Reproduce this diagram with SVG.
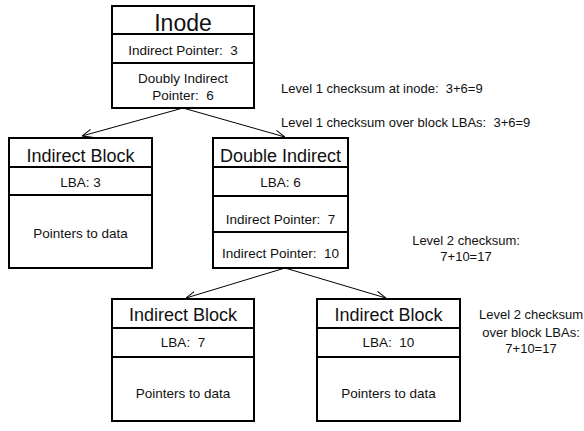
<svg xmlns="http://www.w3.org/2000/svg" width="584" height="431" viewBox="0 0 584 431">
<style>
.box{fill:#fff;stroke:#000;stroke-width:2}
.div{stroke:#000;stroke-width:2}
text{font-family:"Liberation Sans",Arial,sans-serif;fill:#111;text-anchor:middle}
.t{font-size:18px}
.s{font-size:13.5px}
.n{font-size:13px}
.l{text-anchor:start}
.c{stroke:#000;stroke-width:1;fill:none;marker-end:url(#ah)}
</style>
<defs>
<marker id="ah" viewBox="0 0 10 10" refX="10" refY="5" markerWidth="10" markerHeight="10" markerUnits="userSpaceOnUse" orient="auto">
<path d="M0,1 L10,5 L0,9" fill="none" stroke="#000" stroke-width="1"/>
</marker>
</defs>
<g id="connectors">
<line class="c" x1="183" y1="108" x2="82" y2="136"/>
<line class="c" x1="183" y1="108" x2="285" y2="137"/>
<line class="c" x1="285" y1="268" x2="186" y2="298"/>
<line class="c" x1="285" y1="268" x2="386" y2="298"/>
</g>
<g id="inode">
<rect class="box" x="112" y="6" width="142" height="102"/>
<line class="div" x1="112" y1="34" x2="254" y2="34"/>
<line class="div" x1="112" y1="63" x2="254" y2="63"/>
<text x="183" y="31" style="font-size:23px">Inode</text>
<text class="s" x="183" y="55">Indirect Pointer:&#160; 3</text>
<text class="s" x="183" y="83">Doubly Indirect</text>
<text class="s" x="183" y="100">Pointer:&#160; 6</text>
</g>
<g id="indirect1">
<rect class="box" x="9" y="138" width="143" height="130"/>
<line class="div" x1="9" y1="167" x2="152" y2="167"/>
<line class="div" x1="9" y1="195" x2="152" y2="195"/>
<text class="t" x="80.5" y="162">Indirect Block</text>
<text class="s" x="80.5" y="187">LBA: 3</text>
<text class="s" x="80.5" y="238">Pointers to data</text>
</g>
<g id="double">
<rect class="box" x="213" y="138" width="135" height="130"/>
<line class="div" x1="213" y1="167" x2="348" y2="167"/>
<line class="div" x1="213" y1="196" x2="348" y2="196"/>
<line class="div" x1="213" y1="232" x2="348" y2="232"/>
<text class="t" x="280.5" y="162">Double Indirect</text>
<text class="s" x="280.5" y="187">LBA: 6</text>
<text class="s" x="280.5" y="224">Indirect Pointer:&#160; 7</text>
<text class="s" x="280.5" y="258">Indirect Pointer:&#160; 10</text>
</g>
<g id="indirect7">
<rect class="box" x="112" y="299" width="142" height="122"/>
<line class="div" x1="112" y1="328" x2="254" y2="328"/>
<line class="div" x1="112" y1="357" x2="254" y2="357"/>
<text class="t" x="183" y="321">Indirect Block</text>
<text class="s" x="183" y="347">LBA:&#160; 7</text>
<text class="s" x="183" y="398">Pointers to data</text>
</g>
<g id="indirect10">
<rect class="box" x="317" y="299" width="143" height="122"/>
<line class="div" x1="317" y1="328" x2="460" y2="328"/>
<line class="div" x1="317" y1="357" x2="460" y2="357"/>
<text class="t" x="388.5" y="321">Indirect Block</text>
<text class="s" x="388.5" y="347">LBA:&#160; 10</text>
<text class="s" x="388.5" y="398">Pointers to data</text>
</g>
<g id="notes">
<text class="n l" x="281" y="93">Level 1 checksum at inode:&#160; 3+6=9</text>
<text class="n l" x="281" y="127">Level 1 checksum over block LBAs:&#160; 3+6=9</text>
<text class="n" x="466" y="245">Level 2 checksum:</text>
<text class="n" x="466" y="261">7+10=17</text>
<text class="n" x="531" y="319">Level 2 checksum</text>
<text class="n" x="531" y="337">over block LBAs:</text>
<text class="n" x="531" y="353">7+10=17</text>
</g>
</svg>
